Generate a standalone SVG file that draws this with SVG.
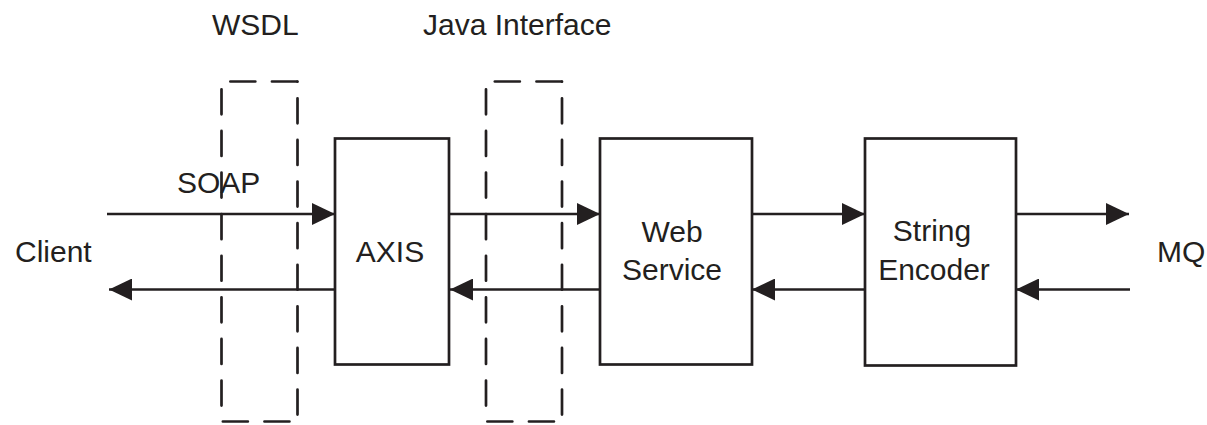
<svg xmlns="http://www.w3.org/2000/svg" width="1207" height="425" viewBox="0 0 1207 425">
<defs>
<style>
.box{fill:none;stroke:#231f20;stroke-width:2.7}
.dash{fill:none;stroke:#231f20;stroke-width:2.7;stroke-dasharray:25 16.6;stroke-linecap:round}
.con{fill:none;stroke:#231f20;stroke-width:2.7}
text{font-family:"Liberation Sans",Arial,sans-serif;font-size:30px;fill:#231f20}
</style>
<marker id="ah" markerWidth="23" markerHeight="22" refX="23" refY="11" orient="auto" markerUnits="userSpaceOnUse">
<path d="M0,0 L23,11 L0,22 Z" fill="#231f20"/>
</marker>
</defs>
<g id="labels">
<text x="212" y="35">WSDL</text>
<text x="423" y="35">Java Interface</text>
<text x="15" y="262">Client</text>
<text x="1157" y="262">MQ</text>
</g>
<g id="wsdl">
<line class="dash" x1="221.5" y1="81.5" x2="221.5" y2="421.5" stroke-dashoffset="-7.85"/>
<line class="dash" x1="297.5" y1="81.5" x2="297.5" y2="421.5" stroke-dashoffset="-16.85"/>
<line class="dash" x1="221.5" y1="81.5" x2="297.5" y2="81.5" stroke-dashoffset="-8.85"/>
<line class="dash" x1="221.5" y1="421.5" x2="297.5" y2="421.5" stroke-dashoffset="-1.35"/>
</g>
<g id="java-interface">
<line class="dash" x1="486" y1="81.5" x2="486" y2="421.5" stroke-dashoffset="-7.85"/>
<line class="dash" x1="562" y1="81.5" x2="562" y2="421.5" stroke-dashoffset="-16.85"/>
<line class="dash" x1="486" y1="81.5" x2="562" y2="81.5" stroke-dashoffset="-8.85"/>
<line class="dash" x1="486" y1="421.5" x2="562" y2="421.5" stroke-dashoffset="-1.35"/>
</g>
<g id="connectors">
<line class="con" x1="107" y1="214" x2="335" y2="214" marker-end="url(#ah)"/>
<line class="con" x1="335" y1="289.5" x2="109" y2="289.5" marker-end="url(#ah)"/>
<line class="con" x1="449" y1="214" x2="600" y2="214" marker-end="url(#ah)"/>
<line class="con" x1="600" y1="289.5" x2="450" y2="289.5" marker-end="url(#ah)"/>
<line class="con" x1="752" y1="214" x2="865" y2="214" marker-end="url(#ah)"/>
<line class="con" x1="865" y1="289.5" x2="752" y2="289.5" marker-end="url(#ah)"/>
<line class="con" x1="1016" y1="214" x2="1129" y2="214" marker-end="url(#ah)"/>
<line class="con" x1="1130" y1="289.5" x2="1016" y2="289.5" marker-end="url(#ah)"/>
</g>
<g id="soap-label"><text x="177" y="193">SOAP</text></g>
<g id="axis">
<rect class="box" x="335" y="138.5" width="114" height="226"/>
<text x="390" y="262" text-anchor="middle">AXIS</text>
</g>
<g id="web-service">
<rect class="box" x="600" y="138.5" width="152" height="226"/>
<text x="672" y="242" text-anchor="middle">Web</text>
<text x="672" y="280" text-anchor="middle">Service</text>
</g>
<g id="string-encoder">
<rect class="box" x="865" y="138.5" width="151" height="227"/>
<text x="932" y="241" text-anchor="middle">String</text>
<text x="934" y="280" text-anchor="middle">Encoder</text>
</g>
</svg>
